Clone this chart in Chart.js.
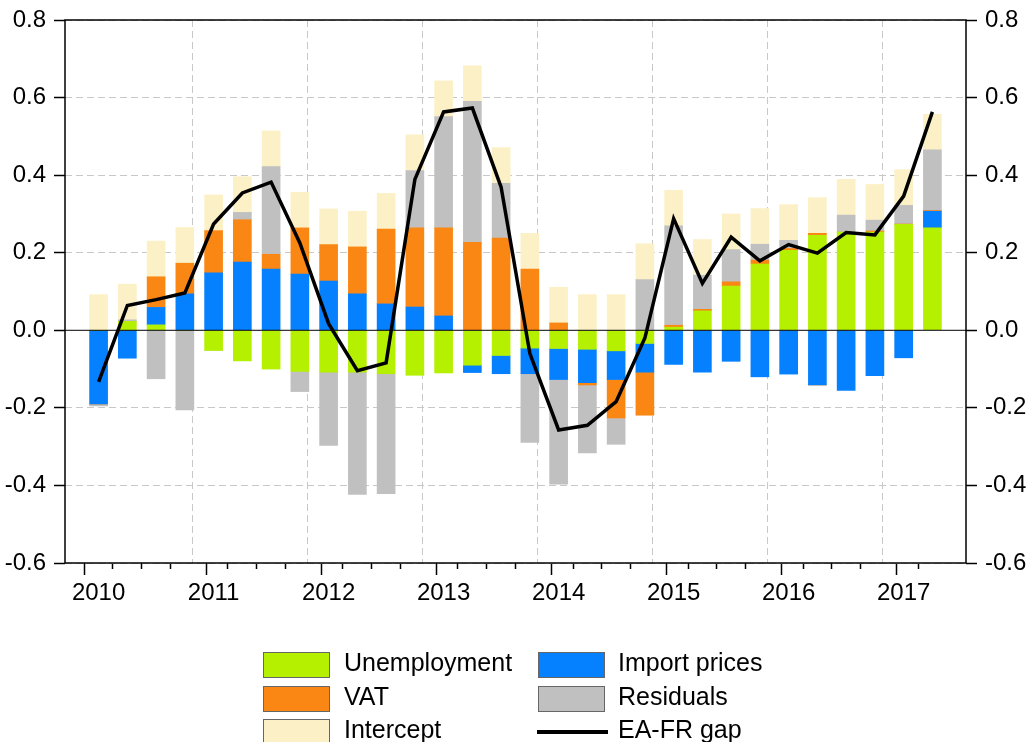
<!DOCTYPE html>
<html>
<head>
<meta charset="utf-8">
<script src="https://cdn.jsdelivr.net/npm/chart.js@4/dist/chart.umd.min.js"></script>
<style>
  body { margin: 0; background: #fff; }
  #wrap { position: relative; width: 1030px; height: 742px; overflow: hidden; }
  #legend { position: absolute; left: 0; top: 0; font-family: "Liberation Sans", Arial, sans-serif; font-size: 25px; color: #000; }
  .sw { position: absolute; width: 67px; height: 26px; border: 1px solid #666; box-sizing: border-box; }
  .ln { position: absolute; width: 71px; height: 4px; background: #000; }
  .lt { position: absolute; line-height: 26px; white-space: nowrap; }
</style>
</head>
<body>
<div id="wrap">
  <canvas id="chart" width="1030" height="742"></canvas>
  <div id="legend"></div>
</div>
<script>
'use strict';
// quarters 2010Q1 .. 2017Q2
var firstYear = 2010;
var quarters = ['2010Q1','2010Q2','2010Q3','2010Q4','2011Q1','2011Q2','2011Q3','2011Q4',
  '2012Q1','2012Q2','2012Q3','2012Q4','2013Q1','2013Q2','2013Q3','2013Q4',
  '2014Q1','2014Q2','2014Q3','2014Q4','2015Q1','2015Q2','2015Q3','2015Q4',
  '2016Q1','2016Q2','2016Q3','2016Q4','2017Q1','2017Q2'];

var unemployment = [0, 0.023, 0.014, 0, -0.052, -0.079, -0.100, -0.106,
  -0.108, -0.108, -0.112, -0.116, -0.110, -0.090, -0.065, -0.046,
  -0.047, -0.049, -0.053, -0.034, 0.008, 0.050, 0.114, 0.171,
  0.206, 0.245, 0.253, 0.253, 0.273, 0.264];
var importPrices = [-0.190, -0.072, 0.045, 0.094, 0.148, 0.176, 0.158, 0.145,
  0.127, 0.094, 0.068, 0.060, 0.037, -0.019, -0.047, -0.066,
  -0.080, -0.086, -0.074, -0.074, -0.088, -0.108, -0.080, -0.120,
  -0.113, -0.140, -0.155, -0.117, -0.071, 0.043];
var vat = [0, 0, 0.079, 0.079, 0.109, 0.109, 0.038, 0.119,
  0.094, 0.121, 0.193, 0.204, 0.227, 0.227, 0.238, 0.158,
  0.019, -0.006, -0.099, -0.111, 0.005, 0.004, 0.011, 0.010,
  0.005, 0.005, 0, 0.003, 0.001, 0.002];
var residuals = [-0.005, 0.004, -0.125, -0.205, 0, 0.019, 0.226, -0.052,
  -0.189, -0.315, -0.309, 0.148, 0.287, 0.363, 0.141, -0.177,
  -0.270, -0.175, -0.068, 0.131, 0.256, 0.088, 0.083, 0.041,
  0.021, -0.003, 0.044, 0.028, 0.048, 0.156];
var intercept = [0.092, 0.092, 0.092, 0.092, 0.092, 0.092, 0.092, 0.092,
  0.092, 0.092, 0.092, 0.092, 0.092, 0.092, 0.092, 0.092,
  0.092, 0.092, 0.092, 0.092, 0.092, 0.092, 0.092, 0.092,
  0.092, 0.092, 0.092, 0.092, 0.092, 0.092];
var gap = [-0.133, 0.064, 0.079, 0.096, 0.274, 0.354, 0.382, 0.225,
  0.017, -0.104, -0.084, 0.389, 0.563, 0.573, 0.369, -0.060,
  -0.257, -0.245, -0.184, -0.020, 0.288, 0.121, 0.240, 0.179,
  0.221, 0.199, 0.252, 0.246, 0.346, 0.563];
var yTicks = [-0.6, -0.4, -0.2, 0.0, 0.2, 0.4, 0.6, 0.8];

var font = { family: '"Liberation Sans", Arial, sans-serif', size: 24 };
var yFont = { family: '"Liberation Sans", Arial, sans-serif', size: 24, lineHeight: 1 };
var gridGray = '#c8c8c8';

var toPoints = function(arr){
  return arr.map(function(v, i){ return { x: i, y: v }; });
};

var barSet = function(label, values, color){
  return {
    type: 'bar',
    label: label,
    data: toPoints(values),
    backgroundColor: color,
    borderWidth: 0,
    barThickness: 18,
    yAxisID: 'y',
    order: 1
  };
};

var xTicks = function(){
  var t = [];
  for (var i = 0; i < quarters.length; i++) t.push({ value: i });
  for (var b = 3.5; b < quarters.length; b += 4) t.push({ value: b });
  t.sort(function(a, b){ return a.value - b.value; });
  return t;
};

var isYearStart = function(v){ return Number.isInteger(v) && v % 4 === 0; };

var frame = {
  id: 'frame',
  afterDatasetsDraw: function(chart){
    var ctx = chart.ctx, a = chart.chartArea;
    var y0 = chart.scales.y.getPixelForValue(0);
    ctx.save();
    ctx.strokeStyle = '#000';
    ctx.lineWidth = 1;
    ctx.beginPath();
    ctx.moveTo(a.left, y0);
    ctx.lineTo(a.right, y0);
    ctx.stroke();
    ctx.restore();
  },
  afterDraw: function(chart){
    var ctx = chart.ctx, a = chart.chartArea;
    ctx.save();
    ctx.strokeStyle = '#000';
    ctx.lineWidth = 1.5;
    ctx.strokeRect(a.left, a.top, a.right - a.left, a.bottom - a.top);
    ctx.restore();
  }
};

var yAxis = function(position, drawGrid){
  return {
    type: 'linear',
    position: position,
    min: -0.6,
    max: 0.8,
    stacked: position === 'left',
    afterBuildTicks: function(scale){
      scale.ticks = yTicks.map(function(v){ return { value: v }; });
    },
    afterFit: function(scale){
      scale.width = position === 'left' ? 65 : 64;
    },
    ticks: {
      font: yFont,
      color: '#000',
      padding: 8,
      callback: function(v){ return Number(v).toFixed(1); }
    },
    grid: {
      drawOnChartArea: drawGrid,
      color: function(c){
        return (c.tick && Math.abs(c.tick.value) < 1e-9) ? 'rgba(0,0,0,0)' : gridGray;
      },
      tickColor: '#000',
      tickLength: 11,
      tickWidth: 1.5
    },
    border: { display: false, dash: [7, 4] }
  };
};

var chart = new Chart(document.getElementById('chart'), {
  data: {
    datasets: [
      barSet('Unemployment', unemployment, '#b4f000'),
      barSet('Import prices', importPrices, '#0580ff'),
      barSet('VAT', vat, '#fa8714'),
      barSet('Residuals', residuals, '#c0c0c0'),
      barSet('Intercept', intercept, '#fcf1c6'),
      {
        type: 'line',
        label: 'EA-FR gap',
        data: toPoints(gap),
        borderColor: '#000',
        borderWidth: 3.5,
        pointRadius: 0,
        tension: 0,
        fill: false,
        yAxisID: 'y2',
        order: 0
      }
    ]
  },
  options: {
    responsive: false,
    animation: false,
    devicePixelRatio: 1,
    layout: { padding: { top: 19, bottom: 139, left: 0, right: 0 } },
    plugins: { legend: { display: false }, tooltip: { enabled: false } },
    scales: {
      x: {
        type: 'linear',
        stacked: true,
        min: -0.745,
        max: quarters.length - 1 + 0.745,
        afterBuildTicks: function(scale){ scale.ticks = xTicks(); },
        afterFit: function(scale){ scale.height = 40; },
        ticks: {
          font: font,
          color: '#000',
          padding: 4,
          autoSkip: false,
          maxRotation: 0,
          callback: function(v){ return isYearStart(v) ? String(firstYear + v / 4) : ''; }
        },
        grid: {
          color: function(c){
            return (c.tick && c.tick.value % 4 === 3.5) ? gridGray : 'rgba(0,0,0,0)';
          },
          tickColor: function(c){
            return (c.tick && Number.isInteger(c.tick.value)) ? '#000' : 'rgba(0,0,0,0)';
          },
          tickBorderDash: function(c){
            return (c.tick && isYearStart(c.tick.value)) ? [] : [6, 40];
          },
          tickLength: 12,
          tickWidth: 1.5
        },
        border: { display: false, dash: [7, 4] }
      },
      y: yAxis('left', true),
      y2: yAxis('right', false)
    }
  },
  plugins: [frame]
});

// legend, two columns as in the source figure
var legendItems = [
  { label: 'Unemployment', color: '#b4f000', col: 0, row: 0 },
  { label: 'Import prices', color: '#0580ff', col: 1, row: 0 },
  { label: 'VAT', color: '#fa8714', col: 0, row: 1 },
  { label: 'Residuals', color: '#c0c0c0', col: 1, row: 1 },
  { label: 'Intercept', color: '#fcf1c6', col: 0, row: 2 },
  { label: 'EA-FR gap', line: true, col: 1, row: 2 }
];
var legend = document.getElementById('legend');
var colX = [263, 538];
var textX = [344, 618];
legendItems.forEach(function(item){
  var top = 652 + item.row * 33.5;
  var mark = document.createElement('div');
  if (item.line) {
    mark.className = 'ln';
    mark.style.left = (colX[item.col] - 1) + 'px';
    mark.style.top = (top + 11) + 'px';
  } else {
    mark.className = 'sw';
    mark.style.left = colX[item.col] + 'px';
    mark.style.top = top + 'px';
    mark.style.background = item.color;
  }
  legend.appendChild(mark);
  var txt = document.createElement('div');
  txt.className = 'lt';
  txt.style.left = textX[item.col] + 'px';
  txt.style.top = (top - 3) + 'px';
  txt.textContent = item.label;
  legend.appendChild(txt);
});
</script>
</body>
</html>
